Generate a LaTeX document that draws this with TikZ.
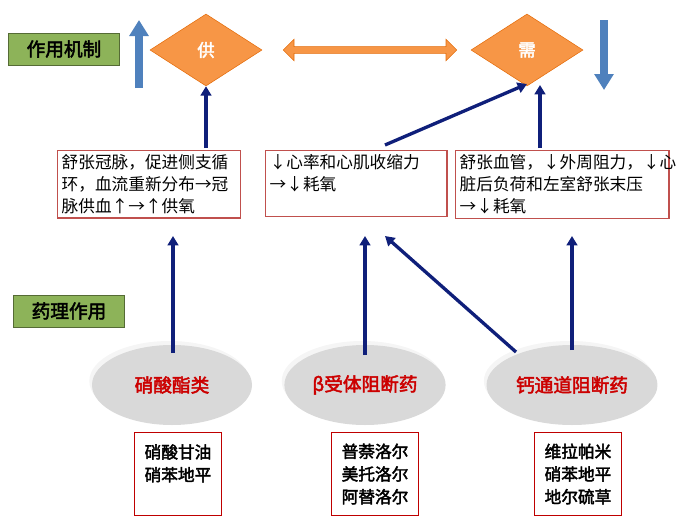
\documentclass[tikz,border=0pt]{standalone}
\usepackage{fontspec}
\setmainfont{Noto Sans CJK SC}[AutoFakeBold=2.5]
\usetikzlibrary{shapes.geometric,shapes.arrows,arrows.meta,shadows}
\definecolor{dia}{HTML}{F79646}
\definecolor{diaB}{HTML}{E46C0A}
\definecolor{navy}{HTML}{0F1F7A}
\definecolor{bl}{HTML}{4F81BD}
\definecolor{grn}{HTML}{8DB359}
\definecolor{redb}{HTML}{C0504D}
\tikzset{
 lbl/.style={draw=grn!60!black,fill=grn,minimum width=83pt,minimum height=24pt,font=\bfseries\fontsize{14}{16}\selectfont,inner sep=0pt},
 dmd/.style={diamond,draw=diaB,fill=dia,minimum width=84pt,minimum height=54pt,aspect=1.55,inner sep=0pt,text=white,font=\bfseries\fontsize{13}{15}\selectfont},
 txtbox/.style={draw=redb,line width=1pt,anchor=north west,align=left,font=\fontsize{12.5}{16.5}\selectfont,inner sep=3pt},
 ell/.style={ellipse,fill=black!15,minimum width=120pt,minimum height=60pt,text=red!80!black,font=\bfseries\fontsize{14}{16}\selectfont,drop shadow={shadow xshift=-2pt,shadow yshift=3pt,fill=black!8}},
 drug/.style={draw=red!75!black,line width=1pt,anchor=north,minimum width=65pt,minimum height=62pt,align=left,font=\bfseries\fontsize{12.5}{17}\selectfont,inner sep=2pt},
 nav/.style={navy,line width=2.5pt,-{Triangle[length=7pt,width=8pt]}},
 bar/.style={-{Triangle[length=12pt,width=14pt]},bl,line width=6pt}
}
\begin{document}
\begin{tikzpicture}[x=0.75pt,y=-0.75pt]
\useasboundingbox (0,0) rectangle (700,525);
\node[lbl] (m1) at (64,49) {作用机制};
\node[lbl] (m2) at (69,311) {药理作用};
\node[dmd] (s) at (206,50) {供};
\node[dmd] (d) at (527,50) {需};
\coordinate (ua) at (139,88); \coordinate (ub) at (139,20);
\draw[bar] (ua) -- (ub);
\coordinate (da) at (604,20); \coordinate (db) at (604,90);
\draw[bar] (da) -- (db);
\node[double arrow,draw=diaB,fill=dia,minimum width=16pt,double arrow head extend=2.5pt,minimum height=130pt,inner sep=1pt] (dbl) at (370,50) {};
\node[txtbox,text width=131pt] (b1) at (57,150) {舒张冠脉，促进侧支循\\环，血流重新分布→冠\\脉供血↑→↑供氧};
\node[txtbox,text width=130pt] (b2) at (265,150) {↓心率和心肌收缩力\\→↓耗氧\\\mbox{}};
\node[txtbox,text width=154pt] (b3) at (455,150) {舒张血管，↓外周阻力，↓心\\脏后负荷和左室舒张末压\\→↓耗氧};
\coordinate (a1) at (206,148);
\draw[nav] (a1) -- (s.south);
\coordinate (a2) at (385,145); \coordinate (a2e) at (527,84);
\draw[nav] (a2) -- (a2e);
\coordinate (a3) at (540,148); \coordinate (a3e) at (540,85);
\draw[nav] (a3) -- (a3e);
\node[ell] (e1) at (172,385) {硝酸酯类};
\node[ell] (e2) at (365,385) {β受体阻断药};
\node[ell] (e3) at (572,385) {钙通道阻断药};
\coordinate (c1) at (173,353); \coordinate (c1e) at (173,236);
\coordinate (c2) at (365,355); \coordinate (c2e) at (365,236);
\coordinate (c3) at (516,352); \coordinate (c3e) at (385,236);
\coordinate (c4) at (572,350); \coordinate (c4e) at (572,236);
\draw[nav] (c1) -- (c1e);
\draw[nav] (c2) -- (c2e);
\draw[nav] (c3) -- (c3e);
\draw[nav] (c4) -- (c4e);
\node[drug] (d1) at (178,432) {硝酸甘油\\硝苯地平\\\mbox{}};
\node[drug] (d2) at (375,432) {普萘洛尔\\美托洛尔\\阿替洛尔};
\node[drug] (d3) at (578,432) {维拉帕米\\硝苯地平\\地尔硫草};
\end{tikzpicture}
\end{document}
